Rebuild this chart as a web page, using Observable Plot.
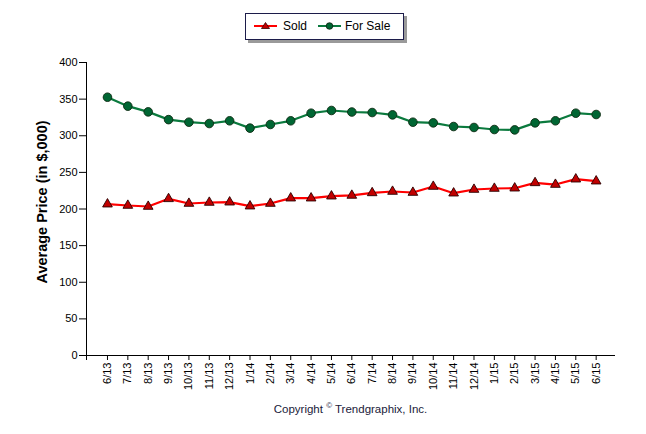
<!DOCTYPE html>
<html>
<head>
<meta charset="utf-8">
<script src="https://cdn.jsdelivr.net/npm/d3@7"></script>
<script src="https://cdn.jsdelivr.net/npm/@observablehq/plot@0.6"></script>
<style>
  body { margin: 0; background: #fff; font-family: "Liberation Sans", Arial, sans-serif; }
  #wrap { position: relative; width: 646px; height: 434px; }
  #legend { position: absolute; left: 245px; top: 13px; width: 157px; height: 25px;
    border: 1px solid #1c1c4a; background: #fff; box-shadow: 3px 3px 0 #9a9a9a;
    font-size: 12px; color: #000; white-space: nowrap; }
  #legend svg, #legend span { position: absolute; }
  #legend span { top: 5px; }
  #chart { position: absolute; left: 0; top: 50px; }
  #caption { position: absolute; left: 86px; width: 529px; top: 401px; text-align: center;
    font-size: 11.5px; color: #1a1a3a; }
  #caption sup { font-size: 8px; }
</style>
</head>
<body>
<div id="wrap">
  <div id="legend">
    <svg style="left:8px;top:7px" width="23" height="10"><line x1="0" y1="5" x2="23" y2="5" stroke="#ff0000" stroke-width="2"/><path d="M11.5,1.5 L15.5,7.5 L7.5,7.5 Z" fill="#c00000" stroke="#300" stroke-width="0.8"/></svg>
    <span style="left:37px">Sold</span>
    <svg style="left:72px;top:7px" width="23" height="10"><line x1="0" y1="5" x2="23" y2="5" stroke="#0b7a3e" stroke-width="2"/><circle cx="11.5" cy="5" r="3.3" fill="#006633" stroke="#102010" stroke-width="0.8"/></svg>
    <span style="left:99px">For Sale</span>
  </div>
  <div id="chart"></div>
  <div id="caption">Copyright <sup>©</sup> Trendgraphix, Inc.</div>
</div>
<script>
const months = ["6/13","7/13","8/13","9/13","10/13","11/13","12/13","1/14","2/14","3/14","4/14","5/14","6/14","7/14","8/14","9/14","10/14","11/14","12/14","1/15","2/15","3/15","4/15","5/15","6/15"];
const sold = [206.6,204.8,203.4,213.9,207.5,208.9,209.3,203.9,207.5,214.8,214.8,217.5,218.5,222,223.9,222.5,230.7,221.6,226.6,228,228.4,235.7,233.4,240.7,238];
const forSale = [352.6,340.4,332.6,322,318.5,316.7,320.4,310.4,315.4,320.4,330.8,334.5,332.4,331.7,328.5,318.5,317.6,312.6,311.3,308.5,308,317.6,320.4,330.8,329];
const yTicks = [0,50,100,150,200,250,300,350,400];
const yLabel = "Average Price (in $,000)";

const soldData = months.map((m, i) => ({i, month: m, value: sold[i]}));
const saleData = months.map((m, i) => ({i, month: m, value: forSale[i]}));

const chart = Plot.plot({
  width: 646,
  height: 350,
  marginLeft: 86,
  marginRight: 31,
  marginTop: 12,
  marginBottom: 45,
  style: {fontFamily: "'Liberation Sans', Arial, sans-serif", fontSize: "11px", color: "#000", background: "#fff"},
  x: {type: "linear", domain: [-1.03, 24.95]},
  y: {domain: [0, 400]},
  marks: [
    Plot.axisY({ticks: yTicks, tickSize: 7, tickPadding: 2, label: null, fontSize: 11}),
    Plot.axisX({ticks: d3.range(months.length), tickFormat: i => months[i], tickRotate: -90, tickSize: 5, tickPadding: 2, label: null, fontSize: 11}),
    Plot.ruleY([0], {stroke: "#000", strokeWidth: 1}),
    Plot.ruleX([-1.03], {stroke: "#000", strokeWidth: 1, insetBottom: -5}),
    Plot.text([yLabel], {frameAnchor: "left", textAnchor: "middle", rotate: -90, dx: -44, dy: -7, fontWeight: "bold", fontSize: 14.5, fill: "#000"}),
    Plot.line(saleData, {x: "i", y: "value", stroke: "#0b7a3e", strokeWidth: 2.2}),
    Plot.line(soldData, {x: "i", y: "value", stroke: "#ff0000", strokeWidth: 2.2}),
    Plot.dot(saleData, {x: "i", y: "value", r: 4.3, fill: "#006633", stroke: "#0d2a12", strokeWidth: 0.9}),
    Plot.dot(soldData, {x: "i", y: "value", symbol: "triangle", r: 3.6, fill: "#c00000", stroke: "#2a0000", strokeWidth: 0.9})
  ]
});
document.getElementById("chart").appendChild(chart);
</script>
</body>
</html>
